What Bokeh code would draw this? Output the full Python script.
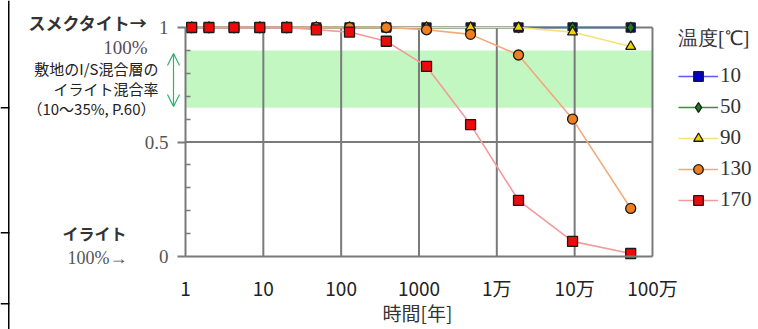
from bokeh.plotting import figure
from bokeh.models import (Range1d, FixedTicker, BoxAnnotation, Label, Arrow, OpenHead,
                          Legend, LegendItem)
from bokeh.embed import file_html
from bokeh.resources import INLINE

# ---------------- data ----------------
years = [1.2, 2, 4.2, 9, 20, 48, 128, 380, 1250, 4600, 19000, 94000, 525000]
s_10 = [1.0, 1.0, 1.0, 1.0, 1.0, 1.0, 1.0, 1.0, 1.0, 1.0, 1.0, 1.0, 1.0]
s_50 = [1.0, 1.0, 1.0, 1.0, 1.0, 1.0, 1.0, 1.0, 1.0, 1.0, 1.0, 1.0, 1.0]
s_90 = [1.0, 1.0, 1.0, 1.0, 1.0, 1.0, 1.0, 1.0, 1.0, 1.0, 1.0, 0.98, 0.917]
s_130 = [1.0, 1.0, 1.0, 1.0, 1.0, 1.0, 1.0, 1.0, 0.99, 0.97, 0.88, 0.60, 0.21]
s_170 = [1.0, 1.0, 1.0, 1.0, 1.0, 0.99, 0.98, 0.94, 0.83, 0.576, 0.245, 0.066, 0.013]
series_names = ["10", "50", "90", "130", "170"]

x_ticks = [1, 10, 100, 1000, 10000, 100000, 1000000]
x_tick_labels = ["1", "10", "100", "1000", "1万", "10万", "100万"]
y_ticks = [0, 0.5, 1]
y_tick_labels = ["0", "0.5", "1"]
y_minor_ticks = [0.1, 0.2, 0.3, 0.4, 0.6, 0.7, 0.8, 0.9]
band_low, band_high = 0.65, 0.90

# ---------------- layout (canvas pixels) ----------------
W, H = 758, 329
X_AT_1 = 185          # canvas x of year 1
PX_DECADE = 77.83     # pixels per decade
Y_AT_1 = 27           # canvas y of value 1
Y_AT_0 = 256          # canvas y of value 0
PX_UNIT = Y_AT_0 - Y_AT_1

x_lo = 10 ** (-X_AT_1 / PX_DECADE)
x_hi = 10 ** ((W - X_AT_1) / PX_DECADE)
y_lo = -(H - Y_AT_0) / PX_UNIT
y_hi = 1 + Y_AT_1 / PX_UNIT


def sx(cx):
    return cx


def sy(cy):
    return H - cy


GOTHIC = "Noto Sans CJK JP"
SERIF = "Liberation Serif"
GRID_COL = "#7a7a7a"

p = figure(width=W, height=H, x_axis_type="log",
           x_range=Range1d(x_lo, x_hi), y_range=Range1d(y_lo, y_hi),
           output_backend="svg", toolbar_location=None,
           min_border=0, min_border_left=0, min_border_right=0,
           min_border_top=0, min_border_bottom=0)
p.outline_line_color = None
p.xgrid.visible = False
p.ygrid.visible = False
p.background_fill_color = "white"
p.border_fill_color = "white"

# green band
p.add_layout(BoxAnnotation(bottom=band_low, top=band_high, left=x_ticks[0], right=x_ticks[-1],
                           fill_color="#c2f7c2", fill_alpha=1.0, line_color=None,
                           level="underlay"))

# grid lines from tick lists
p.segment(x0=x_ticks[1:], y0=[y_ticks[0]] * (len(x_ticks) - 1),
          x1=x_ticks[1:], y1=[y_ticks[-1]] * (len(x_ticks) - 1),
          line_color=GRID_COL, line_width=2)
p.segment(x0=[x_ticks[0]] * 2, y0=y_ticks[1:], x1=[x_ticks[-1]] * 2, y1=y_ticks[1:],
          line_color=GRID_COL, line_width=2)

# axes
xa = p.xaxis[0]
xa.fixed_location = 0
xa.bounds = (x_ticks[0], x_ticks[-1])
xa.ticker = FixedTicker(ticks=x_ticks)
xa.major_label_overrides = {t: l for t, l in zip(x_ticks, x_tick_labels)}
xa.axis_line_color = GRID_COL
xa.axis_line_width = 2
xa.major_tick_line_color = None
xa.minor_tick_line_color = None
xa.major_label_standoff = 11
xa.major_label_text_font = GOTHIC
xa.major_label_text_font_size = "19px"
xa.major_label_text_color = "#222222"

ya = p.yaxis[0]
ya.fixed_location = 1
ya.bounds = (0, 1)
ya.ticker = FixedTicker(ticks=y_ticks, minor_ticks=y_minor_ticks)
ya.major_label_overrides = {t: l for t, l in zip(y_ticks, y_tick_labels)}
ya.axis_line_color = GRID_COL
ya.axis_line_width = 2
ya.major_tick_out = 8
ya.major_tick_in = 0
ya.major_tick_line_color = GRID_COL
ya.major_tick_line_width = 2
ya.minor_tick_in = 5
ya.minor_tick_out = 0
ya.minor_tick_line_color = GRID_COL
ya.minor_tick_line_width = 1.5
ya.major_label_standoff = 9
ya.major_label_text_font = SERIF
ya.major_label_text_font_size = "19px"
ya.major_label_text_color = "#555555"

# series
styles = [
    dict(line="#5a5aff", marker="square", fill="#0000c8", size=9),
    dict(line="#3f8f3f", marker="diamond", fill="#1d7a1d", size=11),
    dict(line="#f3e27a", marker="triangle", fill="#f0d400", size=10),
    dict(line="#f5a77a", marker="circle", fill="#f07d1e", size=10),
    dict(line="#f39a9a", marker="square", fill="#ee0a0a", size=10),
]
all_series = [s_10, s_50, s_90, s_130, s_170]
items = []
for name, vals, st in zip(series_names, all_series, styles):
    ln = p.line(years, vals, line_color=st["line"], line_width=1.6)
    sc = p.scatter(years, vals, marker=st["marker"], size=st["size"],
                   fill_color=st["fill"], line_color="#1a1a1a", line_width=1.3)
    items.append(LegendItem(label=name, renderers=[ln, sc]))

legend = Legend(items=items, location=(sx(678), sy(212)), title="温度[℃]",
                border_line_color=None, background_fill_alpha=0,
                padding=0, margin=0, spacing=6, label_height=24, glyph_height=24,
                glyph_width=40, label_standoff=2,
                label_text_font=SERIF, label_text_font_size="21px",
                label_text_color="#333333",
                title_text_font=SERIF, title_text_font_size="20px",
                title_text_font_style="normal", title_text_color="#333333",
                title_standoff=11)
p.add_layout(legend)


def lab(text, cx, cy, size, font=GOTHIC, align="right", color="#222222", style="normal"):
    p.add_layout(Label(x=sx(cx), y=sy(cy), x_units="screen", y_units="screen", text=text,
                       text_font=font, text_font_size=size, text_align=align,
                       text_baseline="middle", text_color=color, text_font_style=style))


lab("スメクタイト→", 147, 22, "17px", style="bold", color="#333333")
lab("100%", 147, 47, "19px", font=SERIF, color="#5b4b5b")
lab("敷地のI/S混合層の", 158, 68, "15px")
lab("イライト混合率", 158, 88, "15px")
lab("（10〜35%, P.60）", 155, 108, "15px")
lab("イライト", 94, 232, "16px", align="center", style="bold", color="#333333")
lab("100%→", 127, 257, "18px", font=SERIF, color="#555555")
lab("時間[年]", 417, 312, "19px", align="center", color="#333333")

arrow_col = "#2bb36b"
p.add_layout(Arrow(start=OpenHead(size=12, line_color=arrow_col, line_width=1.2),
                   end=OpenHead(size=12, line_color=arrow_col, line_width=1.2),
                   x_start=sx(173), y_start=sy(53), x_end=sx(173), y_end=sy(106),
                   start_units="screen", end_units="screen",
                   line_color=arrow_col, line_width=1.2))

# border lines of the surrounding table (left edge of the source image)
def rule(x0, x1, y0, y1):
    p.add_layout(BoxAnnotation(left=sx(x0), right=sx(x1), bottom=sy(y1), top=sy(y0),
                               left_units="screen", right_units="screen",
                               bottom_units="screen", top_units="screen",
                               fill_color="black", fill_alpha=1.0, line_color=None))


rule(7.5, 9, 0, H)
rule(0, 9, 106.5, 108)
rule(0, 9, 231.5, 233)
rule(0, 9, 302.5, 304)

open("out.html", "w").write(file_html(p, INLINE))
